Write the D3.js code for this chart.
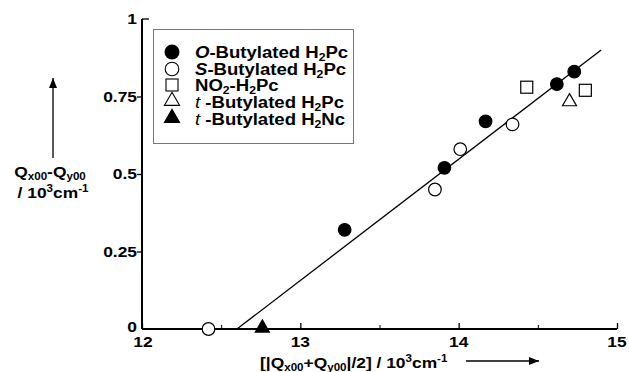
<!DOCTYPE html>
<html>
<head>
<meta charset="utf-8">
<script src="https://cdnjs.cloudflare.com/ajax/libs/d3/7.8.5/d3.min.js"></script>
<style>
  body { margin: 0; background: #fff; }
  text { font-family: "Liberation Sans", Arial, Helvetica, sans-serif; font-weight: bold; fill: #000; }
</style>
</head>
<body>
<div id="chart"></div>
<script>
// Data
const oButX = [13.28, 13.91, 14.17, 14.62, 14.73];
const oButY = [0.32, 0.52, 0.67, 0.79, 0.83];
const sButX = [12.42, 13.85, 14.01, 14.34];
const sButY = [0.0, 0.45, 0.58, 0.66];
const no2X = [14.43, 14.80];
const no2Y = [0.78, 0.77];
const tButPcX = [14.70];
const tButPcY = [0.73];
const tButNcX = [12.76];
const tButNcY = [0.0];
const fitX = [12.6, 14.9];
const fitY = [0.0, 0.9];
const xTicks = [12, 13, 14, 15];
const xMinor = [12.5, 13.5, 14.5];
const yTicks = [0, 0.25, 0.5, 0.75, 1];
const yTickLabels = ["0", "0.25", "0.5", "0.75", "1"];

const W = 629, H = 372;
const SX = 1.16; // the original lettering is a wide sans, stretch it a bit
const x = d3.scaleLinear().domain([12, 15]).range([142, 617]);
const y = d3.scaleLinear().domain([0, 1]).range([329, 19]);

const svg = d3.select("#chart").append("svg")
    .attr("width", W).attr("height", H);

svg.append("defs").append("marker")
    .attr("id", "arr").attr("viewBox", "0 0 10 10")
    .attr("refX", 10).attr("refY", 5)
    .attr("markerWidth", 14).attr("markerHeight", 10)
    .attr("markerUnits", "userSpaceOnUse")
    .attr("orient", "auto")
    .append("path").attr("d", "M0,1 L10,5 L0,9 Z").attr("fill", "#000");

// text helper, horizontally stretched
function txt(px, py, anchor, size) {
    return svg.append("g").attr("transform", `translate(${px},${py}) scale(${SX},1)`)
        .append("text").attr("text-anchor", anchor || "start").attr("font-size", size || 15);
}

// Fit line
svg.append("line")
    .attr("x1", x(fitX[0])).attr("y1", y(fitY[0]))
    .attr("x2", x(fitX[1])).attr("y2", y(fitY[1]))
    .attr("stroke", "#000").attr("stroke-width", 1.3);

// Axes
const xAxis = svg.append("g").attr("transform", `translate(0,${y(0)})`)
    .call(d3.axisTop(x).tickValues(xTicks).tickSize(6).tickFormat(""));
xAxis.select(".domain").attr("stroke-width", 2).attr("d", `M${x(12)},0H${x(15)}`);
xAxis.selectAll(".tick line").attr("stroke-width", 1.3);
svg.append("g").attr("transform", `translate(0,${y(0)})`)
    .call(d3.axisTop(x).tickValues(xMinor).tickSize(4).tickFormat(""))
    .call(g => g.select(".domain").remove())
    .selectAll(".tick line").attr("stroke-width", 1);

xTicks.forEach(v => {
    txt(x(v) + (v === 12 ? 1 : 0), 347, "middle").text(v);
});

const yAxis = svg.append("g").attr("transform", `translate(${x(12)},0)`)
    .call(d3.axisLeft(y).tickValues([0.25, 0.5, 0.75]).tickSize(5).tickFormat(""));
yAxis.select(".domain").attr("stroke-width", 2).attr("d", `M0,${y(1)}V${y(0)}`);
yAxis.selectAll(".tick line").attr("stroke-width", 1.3);
svg.append("line").attr("x1", x(12)).attr("x2", x(12) + 7)
    .attr("y1", y(1)).attr("y2", y(1)).attr("stroke", "#000").attr("stroke-width", 1.3);

yTicks.forEach((v, i) => {
    txt(137, y(v) + (v === 0 ? 3 : 5), "end").text(yTickLabels[i]);
});

// Markers
const R = 6.3;
function circles(xs, ys, fill) {
    svg.append("g").selectAll("circle").data(xs).join("circle")
        .attr("cx", d => x(d)).attr("cy", (d, i) => y(ys[i])).attr("r", R)
        .attr("fill", fill).attr("stroke", "#000").attr("stroke-width", 1.2);
}
function squares(xs, ys) {
    svg.append("g").selectAll("rect").data(xs).join("rect")
        .attr("x", d => x(d) - 6).attr("y", (d, i) => y(ys[i]) - 6)
        .attr("width", 12).attr("height", 12)
        .attr("fill", "#fff").attr("stroke", "#000").attr("stroke-width", 1.2);
}
const tri = d3.symbol().type(d3.symbolTriangle).size(85);
function triangles(xs, ys, fill) {
    svg.append("g").selectAll("path").data(xs).join("path")
        .attr("d", tri)
        .attr("transform", (d, i) => `translate(${x(d)},${y(ys[i]) - 1})`)
        .attr("fill", fill).attr("stroke", "#000").attr("stroke-width", 1.2);
}
circles(sButX, sButY, "#fff");
circles(oButX, oButY, "#000");
squares(no2X, no2Y);
triangles(tButPcX, tButPcY, "#fff");
triangles(tButNcX, tButNcY, "#000");

// Legend
svg.append("rect").attr("x", 153.5).attr("y", 29.5).attr("width", 200).attr("height", 114)
    .attr("fill", "#fff").attr("stroke", "#777").attr("stroke-width", 1);

const legRows = [52, 69, 85, 102, 119];
const lx = 172;
const triL = d3.symbol().type(d3.symbolTriangle).size(100);
svg.append("circle").attr("cx", lx).attr("cy", legRows[0]).attr("r", 7.5).attr("fill", "#000");
svg.append("circle").attr("cx", lx).attr("cy", legRows[1]).attr("r", 6.8)
    .attr("fill", "#fff").attr("stroke", "#000").attr("stroke-width", 1.1);
svg.append("rect").attr("x", lx - 6).attr("y", legRows[2] - 6).attr("width", 12).attr("height", 12)
    .attr("fill", "#fff").attr("stroke", "#000").attr("stroke-width", 1.1);
svg.append("path").attr("d", triL).attr("transform", `translate(${lx},${legRows[3] - 1})`)
    .attr("fill", "#fff").attr("stroke", "#000").attr("stroke-width", 1.1);
svg.append("path").attr("d", triL).attr("transform", `translate(${lx},${legRows[4] - 1})`)
    .attr("fill", "#000").attr("stroke", "#000").attr("stroke-width", 1.1);

function legText(yy, parts) {
    const t = txt(195, yy + 5.5, "start", 16);
    parts.forEach(p => {
        const s = t.append("tspan").text(p.t);
        if (p.i) s.attr("font-style", "italic");
        if (p.n) s.attr("font-weight", "normal");
        if (p.sub) s.attr("font-size", 10.5).attr("baseline-shift", "-4");
    });
}
legText(legRows[0], [{ t: "O", i: 1 }, { t: "-Butylated H" }, { t: "2", sub: 1 }, { t: "Pc" }]);
legText(legRows[1], [{ t: "S", i: 1 }, { t: "-Butylated H" }, { t: "2", sub: 1 }, { t: "Pc" }]);
legText(legRows[2], [{ t: "NO" }, { t: "2", sub: 1 }, { t: "-H" }, { t: "2", sub: 1 }, { t: "Pc" }]);
legText(legRows[3], [{ t: "t ", i: 1, n: 1 }, { t: "-Butylated H" }, { t: "2", sub: 1 }, { t: "Pc" }]);
legText(legRows[4], [{ t: "t ", i: 1, n: 1 }, { t: "-Butylated H" }, { t: "2", sub: 1 }, { t: "Nc" }]);

// Y axis title
const yt1 = txt(50, 177, "middle", 15);
yt1.append("tspan").text("Q");
yt1.append("tspan").text("x00").attr("font-size", 10).attr("baseline-shift", "-3");
yt1.append("tspan").text("-Q");
yt1.append("tspan").text("y00").attr("font-size", 10).attr("baseline-shift", "-3");
const yt2 = txt(53, 198, "middle", 15);
yt2.append("tspan").text("/ 10");
yt2.append("tspan").text("3").attr("font-size", 10).attr("baseline-shift", "6");
yt2.append("tspan").text("cm");
yt2.append("tspan").text("-1").attr("font-size", 10).attr("baseline-shift", "6");
svg.append("line").attr("x1", 53).attr("x2", 53).attr("y1", 158).attr("y2", 78)
    .attr("stroke", "#000").attr("stroke-width", 1.3).attr("marker-end", "url(#arr)");

// X axis title
const xt = txt(260, 368, "start", 15);
xt.append("tspan").text("[|Q");
xt.append("tspan").text("x00").attr("font-size", 10).attr("baseline-shift", "-3");
xt.append("tspan").text("+Q");
xt.append("tspan").text("y00").attr("font-size", 10).attr("baseline-shift", "-3");
xt.append("tspan").text("|/2] / 10");
xt.append("tspan").text("3").attr("font-size", 10).attr("baseline-shift", "6");
xt.append("tspan").text("cm");
xt.append("tspan").text("-1").attr("font-size", 10).attr("baseline-shift", "6");
svg.append("line").attr("x1", 466).attr("x2", 539).attr("y1", 361).attr("y2", 361)
    .attr("stroke", "#000").attr("stroke-width", 1.3).attr("marker-end", "url(#arr)");
</script>
</body>
</html>
